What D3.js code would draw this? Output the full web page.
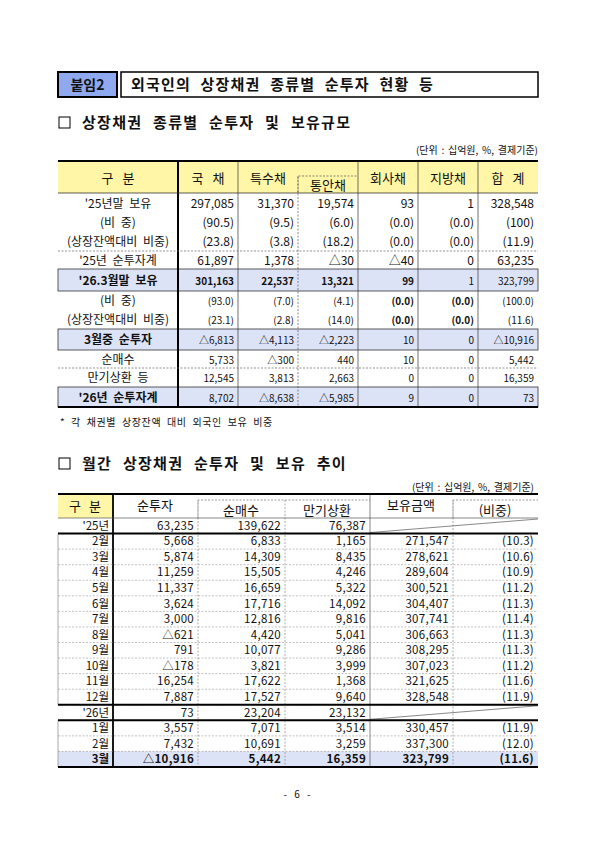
<!DOCTYPE html>
<html><head><meta charset="utf-8">
<script src="https://cdn.jsdelivr.net/npm/d3@7"></script>
<style>body{margin:0;background:#fff}text{font-family:"Noto Sans CJK KR","Noto Sans",sans-serif;fill:#111}</style>
</head><body>
<script>
// table 1 data
const t1Heads = ["국 채", "특수채", "통안채", "회사채", "지방채", "합 계"];
const t1Labels = ["'25년말 보유", "(비 중)", "(상장잔액대비 비중)", "'25년 순투자계", "'26.3월말 보유", "(비 중)", "(상장잔액대비 비중)", "3월중 순투자", "순매수", "만기상환 등", "'26년 순투자계"];
const t1Kuk = ["297,085", "(90.5)", "(23.8)", "61,897", "301,163", "(93.0)", "(23.1)", "△6,813", "5,733", "12,545", "8,702"];
const t1Teuk = ["31,370", "(9.5)", "(3.8)", "1,378", "22,537", "(7.0)", "(2.8)", "△4,113", "△300", "3,813", "△8,638"];
const t1Tong = ["19,574", "(6.0)", "(18.2)", "△30", "13,321", "(4.1)", "(14.0)", "△2,223", "440", "2,663", "△5,985"];
const t1Hoe = ["93", "(0.0)", "(0.0)", "△40", "99", "(0.0)", "(0.0)", "10", "10", "0", "9"];
const t1Ji = ["1", "(0.0)", "(0.0)", "0", "1", "(0.0)", "(0.0)", "0", "0", "0", "0"];
const t1Sum = ["328,548", "(100)", "(11.9)", "63,235", "323,799", "(100.0)", "(11.6)", "△10,916", "5,442", "16,359", "73"];

// table 2 data
const t2Labels = ["'25년", "2월", "3월", "4월", "5월", "6월", "7월", "8월", "9월", "10월", "11월", "12월", "'26년", "1월", "2월", "3월"];
const t2Net = ["63,235", "5,668", "5,874", "11,259", "11,337", "3,624", "3,000", "△621", "791", "△178", "16,254", "7,887", "73", "3,557", "7,432", "△10,916"];
const t2Buy = ["139,622", "6,833", "14,309", "15,505", "16,659", "17,716", "12,816", "4,420", "10,077", "3,821", "17,622", "17,527", "23,204", "7,071", "10,691", "5,442"];
const t2Red = ["76,387", "1,165", "8,435", "4,246", "5,322", "14,092", "9,816", "5,041", "9,286", "3,999", "1,368", "9,640", "23,132", "3,514", "3,259", "16,359"];
const t2Hold = ["", "271,547", "278,621", "289,604", "300,521", "304,407", "307,741", "306,663", "308,295", "307,023", "321,625", "328,548", "", "330,457", "337,300", "323,799"];
const t2Share = ["", "(10.3)", "(10.6)", "(10.9)", "(11.2)", "(11.3)", "(11.4)", "(11.3)", "(11.3)", "(11.2)", "(11.6)", "(11.9)", "", "(11.9)", "(12.0)", "(11.6)"];

const svg = d3.select("body").append("svg").attr("width", 595).attr("height", 841);
const L = 58, R = 538;
const blue = "#dde3f7", yellow = "#fff6a8";

// title
svg.append("rect").attr("x", 58).attr("y", 72).attr("width", 59).attr("height", 25).attr("fill", "#8ea9ef").attr("stroke", "#000").attr("stroke-width", 2);
svg.append("text").attr("x", 87.5).attr("y", 90).attr("text-anchor", "middle").attr("font-size", 14).attr("font-weight", "bold").text("붙임2");
svg.append("rect").attr("x", 121).attr("y", 72).attr("width", 417).attr("height", 25).attr("fill", "none").attr("stroke", "#000").attr("stroke-width", 1.5);
svg.append("text").attr("x", 131).attr("y", 90).attr("font-size", 15).attr("font-weight", "bold")
  .attr("letter-spacing", 1.2).attr("word-spacing", 5).text("외국인의 상장채권 종류별 순투자 현황 등");

function heading(y, txt) {
  svg.append("rect").attr("x", 59).attr("y", y - 11).attr("width", 11).attr("height", 11).attr("fill", "none").attr("stroke", "#000");
  svg.append("text").attr("x", 82).attr("y", y).attr("font-size", 15).attr("font-weight", "bold")
    .attr("letter-spacing", 1.3).attr("word-spacing", 6).text(txt);
}
heading(128, "상장채권 종류별 순투자 및 보유규모");
svg.append("text").attr("x", R).attr("y", 154).attr("text-anchor", "end").attr("font-size", 10).attr("word-spacing", 1.5).text("(단위 : 십억원, %, 결제기준)");

// ---- table 1
const c1 = d3.scaleOrdinal().domain(d3.range(7)).range([58, 178, 238, 298, 358, 418, 478]);
const w1 = i => (i < 6 ? c1(i + 1) : R) - c1(i);
const rowEdges = [193, 213, 232, 251, 269, 291, 310, 329, 350, 368, 387, 407];
const t1Cols = [t1Kuk, t1Teuk, t1Tong, t1Hoe, t1Ji, t1Sum];
const boxed = [4, 7, 10];
const g1 = svg.append("g");
g1.append("rect").attr("x", L).attr("y", 161).attr("width", R - L).attr("height", 32).attr("fill", yellow);
g1.selectAll(".bx").data(boxed).join("rect").attr("x", L).attr("y", d => rowEdges[d]).attr("width", R - L)
  .attr("height", d => rowEdges[d + 1] - rowEdges[d]).attr("fill", blue).attr("stroke", "#333").attr("stroke-width", 0.8);
// header
g1.append("text").attr("x", 118).attr("y", 183).attr("text-anchor", "middle").attr("font-size", 13).attr("word-spacing", 6).text("구 분");
t1Heads.forEach((h, i) => {
  const x = c1(i + 1) + w1(i + 1) / 2, y = i == 2 ? 190 : 183;
  g1.append("text").attr("x", x).attr("y", y).attr("text-anchor", "middle").attr("font-size", 13).attr("word-spacing", 6).text(h);
});
g1.append("path").attr("d", "M298,193V176H358").attr("fill", "none").attr("stroke", "#555").attr("stroke-dasharray", "2,1.5").attr("stroke-width", 0.7);
// verticals
[238, 358, 418, 478].forEach(x => g1.append("line").attr("x1", x).attr("x2", x).attr("y1", 161).attr("y2", 407).attr("stroke", "#333").attr("stroke-width", 0.7));
g1.append("line").attr("x1", 298).attr("x2", 298).attr("y1", 176).attr("y2", 407).attr("stroke", "#555").attr("stroke-dasharray", "2,1.5").attr("stroke-width", 0.7);
g1.append("line").attr("x1", 178).attr("x2", 178).attr("y1", 161).attr("y2", 407).attr("stroke", "#000").attr("stroke-width", 2);
g1.append("line").attr("x1", L).attr("x2", R).attr("y1", 161).attr("y2", 161).attr("stroke", "#000").attr("stroke-width", 2);
g1.append("line").attr("x1", L).attr("x2", R).attr("y1", 193).attr("y2", 193).attr("stroke", "#333").attr("stroke-width", 0.8);
g1.append("line").attr("x1", L).attr("x2", R).attr("y1", 251).attr("y2", 251).attr("stroke", "#666").attr("stroke-dasharray", "2,1.5").attr("stroke-width", 0.7);
g1.append("line").attr("x1", L).attr("x2", R).attr("y1", 368).attr("y2", 368).attr("stroke", "#666").attr("stroke-dasharray", "2,1.5").attr("stroke-width", 0.7);
g1.append("line").attr("x1", L).attr("x2", R).attr("y1", 407).attr("y2", 407).attr("stroke", "#000").attr("stroke-width", 1.8);
// body
t1Labels.forEach((lab, r) => {
  const y = (rowEdges[r] + rowEdges[r + 1]) / 2 + 4.5;
  const small = r >= 4;
  g1.append("text").attr("x", 118).attr("y", y).attr("text-anchor", "middle").attr("font-size", 12)
    .attr("font-weight", boxed.includes(r) ? "bold" : "normal").attr("word-spacing", 3).text(lab);
  t1Cols.forEach((col, i) => {
    const bold = (r == 4 && i < 4) || ((r == 5 || r == 6) && (i == 3 || i == 4));
    g1.append("text").attr("x", c1(i + 1) + w1(i + 1) - 4).attr("y", y).attr("text-anchor", "end")
      .attr("font-size", small ? 10 : 12).attr("font-weight", bold ? "bold" : "normal").text(col[r]);
  });
});
svg.append("text").attr("x", 60).attr("y", 426).attr("font-size", 10).attr("letter-spacing", 0.6).attr("word-spacing", 3).text("* 각 채권별 상장잔액 대비 외국인 보유 비중");

// ---- table 2
heading(469, "월간 상장채권 순투자 및 보유 추이");
svg.append("text").attr("x", R - 4).attr("y", 491).attr("text-anchor", "end").attr("font-size", 10).attr("word-spacing", 1.5).text("(단위 : 십억원, %, 결제기준)");
const c2 = [58, 113, 198, 285, 370, 453, R];
const t2Cols = [t2Net, t2Buy, t2Red, t2Hold, t2Share];
const y2 = d3.scaleBand().domain(d3.range(t2Labels.length)).range([518, 767]);
const g2 = svg.append("g");
g2.append("rect").attr("x", L).attr("y", 494).attr("width", 55).attr("height", 24).attr("fill", yellow);
g2.append("rect").attr("x", L).attr("y", y2(15)).attr("width", R - L).attr("height", y2.bandwidth()).attr("fill", blue);
g2.append("text").attr("x", 85).attr("y", 511).attr("text-anchor", "middle").attr("font-size", 13).attr("word-spacing", 5).text("구 분");
[["순투자", 155, 510], ["순매수", 241, 515], ["만기상환", 327, 515], ["보유금액", 411, 510], ["(비중)", 495, 515]].forEach(d =>
  g2.append("text").attr("x", d[1]).attr("y", d[2]).attr("text-anchor", "middle").attr("font-size", 13).text(d[0]));
const dash = "2,1.5";
g2.append("path").attr("d", "M198,518V500H370").attr("fill", "none").attr("stroke", "#777").attr("stroke-dasharray", dash).attr("stroke-width", 0.7);
g2.append("path").attr("d", "M453,518V500H538").attr("fill", "none").attr("stroke", "#777").attr("stroke-dasharray", dash).attr("stroke-width", 0.7);
[198, 285, 453].forEach(x => g2.append("line").attr("x1", x).attr("x2", x).attr("y1", 500).attr("y2", 767).attr("stroke", "#888").attr("stroke-dasharray", dash).attr("stroke-width", 0.7));
g2.append("line").attr("x1", 370).attr("x2", 370).attr("y1", 494).attr("y2", 767).attr("stroke", "#555").attr("stroke-width", 0.7);
g2.append("line").attr("x1", 113).attr("x2", 113).attr("y1", 494).attr("y2", 767).attr("stroke", "#000").attr("stroke-width", 1.8);
// rows
t2Labels.forEach((lab, r) => {
  const top = y2(r), bot = top + y2.bandwidth();
  if (r > 0) g2.append("line").attr("x1", L).attr("x2", R).attr("y1", top).attr("y2", top).attr("stroke", "#999").attr("stroke-dasharray", dash).attr("stroke-width", 0.6);
  const yr = lab.startsWith("'");
  if (yr) g2.append("line").attr("x1", 370).attr("x2", R).attr("y1", bot - 1).attr("y2", top + 1).attr("stroke", "#555").attr("stroke-width", 0.7);
  const y = top + y2.bandwidth() / 2 + 4;
  const last = r == 15;
  g2.append("text").attr("x", 109).attr("y", y).attr("text-anchor", "end").attr("font-size", 11.5)
    .attr("font-weight", last ? "bold" : "normal").text(lab);
  t2Cols.forEach((col, i) => g2.append("text").attr("x", c2[i + 2] - 4).attr("y", y).attr("text-anchor", "end")
    .attr("font-size", 11.5).attr("letter-spacing", 0.3).attr("font-weight", last ? "bold" : "normal").text(col[r]));
});
g2.append("line").attr("x1", L).attr("x2", L).attr("y1", y2(1)).attr("y2", y2(12)).attr("stroke", "#888").attr("stroke-width", 0.7);
g2.append("line").attr("x1", L).attr("x2", L).attr("y1", y2(13)).attr("y2", 767).attr("stroke", "#888").attr("stroke-width", 0.7);
[494, y2(1), y2(12), y2(13), 767].forEach(y => g2.append("line").attr("x1", L).attr("x2", R).attr("y1", y).attr("y2", y).attr("stroke", "#000").attr("stroke-width", 2));
g2.append("line").attr("x1", L).attr("x2", R).attr("y1", 518).attr("y2", 518).attr("stroke", "#555").attr("stroke-width", 0.7);

svg.append("text").attr("x", 297).attr("y", 798).attr("text-anchor", "middle").attr("font-size", 10).attr("word-spacing", 5).text("- 6 -");
</script>
</body></html>
